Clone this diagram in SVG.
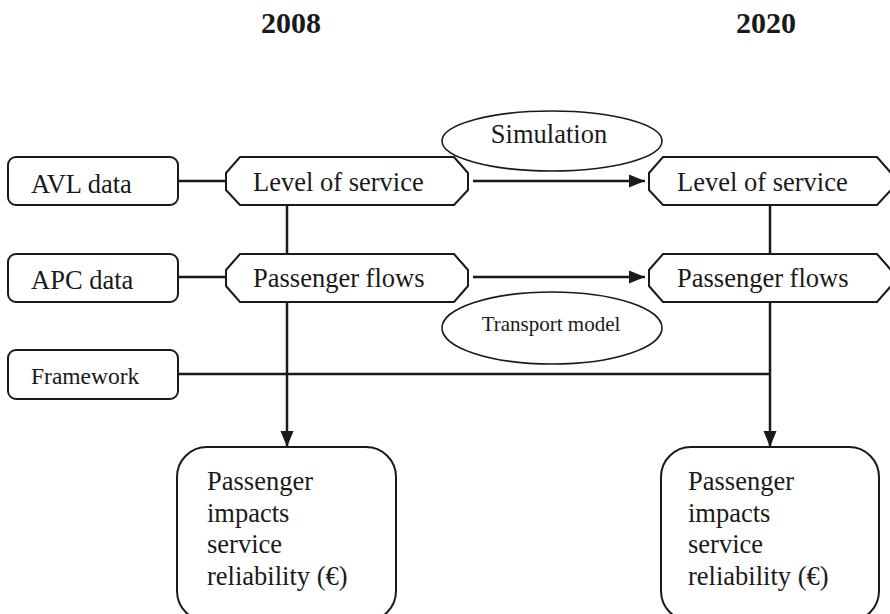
<svg xmlns="http://www.w3.org/2000/svg" width="890" height="614" viewBox="0 0 890 614">
<style>
.box{fill:#fff;stroke:#1a1a1a;stroke-width:2}
.ell{fill:#fff;stroke:#1a1a1a;stroke-width:1.6}
.ln{fill:none;stroke:#1a1a1a;stroke-width:2.5}
.t{font-family:"Liberation Serif","Times New Roman",serif;fill:#1a1a1a;font-size:26.5px}
.s{font-size:23.5px}
.m{font-size:21px}
.h{font-weight:bold;font-size:30px}
</style>
<defs>
<marker id="ah" markerUnits="userSpaceOnUse" markerWidth="16" markerHeight="16" viewBox="0 0 16 16" refX="16" refY="8" orient="auto">
<path d="M0,1.5 L16,8 L0,14.5 Z" fill="#1a1a1a"/>
</marker>
</defs>
<rect width="890" height="614" fill="#fff"/>
<text class="t h" x="291" y="33" text-anchor="middle">2008</text>
<text class="t h" x="766" y="33" text-anchor="middle">2020</text>
<g id="connectors">
<line class="ln" x1="178" y1="181" x2="226" y2="181"/>
<line class="ln" x1="178" y1="277" x2="226" y2="277"/>
<line class="ln" x1="287" y1="205" x2="287" y2="254"/>
<line class="ln" x1="770" y1="205" x2="770" y2="254"/>
<line class="ln" x1="473" y1="181" x2="645" y2="181" marker-end="url(#ah)"/>
<line class="ln" x1="473" y1="277" x2="645" y2="277" marker-end="url(#ah)"/>
<line class="ln" x1="287" y1="302" x2="287" y2="447" marker-end="url(#ah)"/>
<line class="ln" x1="178" y1="374" x2="770" y2="374"/>
<line class="ln" x1="770" y1="302" x2="770" y2="447" marker-end="url(#ah)"/>
</g>
<g id="simulation">
<ellipse class="ell" cx="552" cy="141" rx="110" ry="30"/>
<text class="t" x="549" y="143" text-anchor="middle">Simulation</text>
</g>
<g id="transport-model">
<ellipse class="ell" cx="552" cy="328" rx="110" ry="36"/>
<text class="t m" x="551" y="331" text-anchor="middle">Transport model</text>
</g>
<g id="avl">
<rect class="box" x="8" y="157" width="170" height="48" rx="8"/>
<text class="t" x="31" y="193">AVL data</text>
</g>
<g id="apc">
<rect class="box" x="8" y="254" width="170" height="48" rx="8"/>
<text class="t" x="31" y="289">APC data</text>
</g>
<g id="framework">
<rect class="box" x="8" y="350" width="170" height="49" rx="8"/>
<text class="t s" x="31" y="384">Framework</text>
</g>
<g id="los-2008">
<polygon class="box" points="240,157 454,157 468,173 468,190 454,205 240,205 226,190 226,173"/>
<text class="t" x="253" y="191">Level of service</text>
</g>
<g id="pf-2008">
<polygon class="box" points="240,254 454,254 468,270 468,286 454,302 240,302 226,286 226,270"/>
<text class="t" x="253" y="287">Passenger flows</text>
</g>
<g id="los-2020">
<polygon class="box" points="663,157 877,157 891,173 891,190 877,205 663,205 649,190 649,173"/>
<text class="t" x="677" y="191">Level of service</text>
</g>
<g id="pf-2020">
<polygon class="box" points="663,254 877,254 891,270 891,286 877,302 663,302 649,286 649,270"/>
<text class="t" x="677" y="287">Passenger flows</text>
</g>
<g id="impacts-2008">
<rect class="box" x="177" y="447" width="219" height="174" rx="30"/>
<text class="t" x="207" y="490">Passenger</text>
<text class="t" x="207" y="522">impacts</text>
<text class="t" x="207" y="553">service</text>
<text class="t" x="207" y="585">reliability (€)</text>
</g>
<g id="impacts-2020">
<rect class="box" x="661" y="447" width="218" height="174" rx="30"/>
<text class="t" x="688" y="490">Passenger</text>
<text class="t" x="688" y="522">impacts</text>
<text class="t" x="688" y="553">service</text>
<text class="t" x="688" y="585">reliability (€)</text>
</g>
</svg>
